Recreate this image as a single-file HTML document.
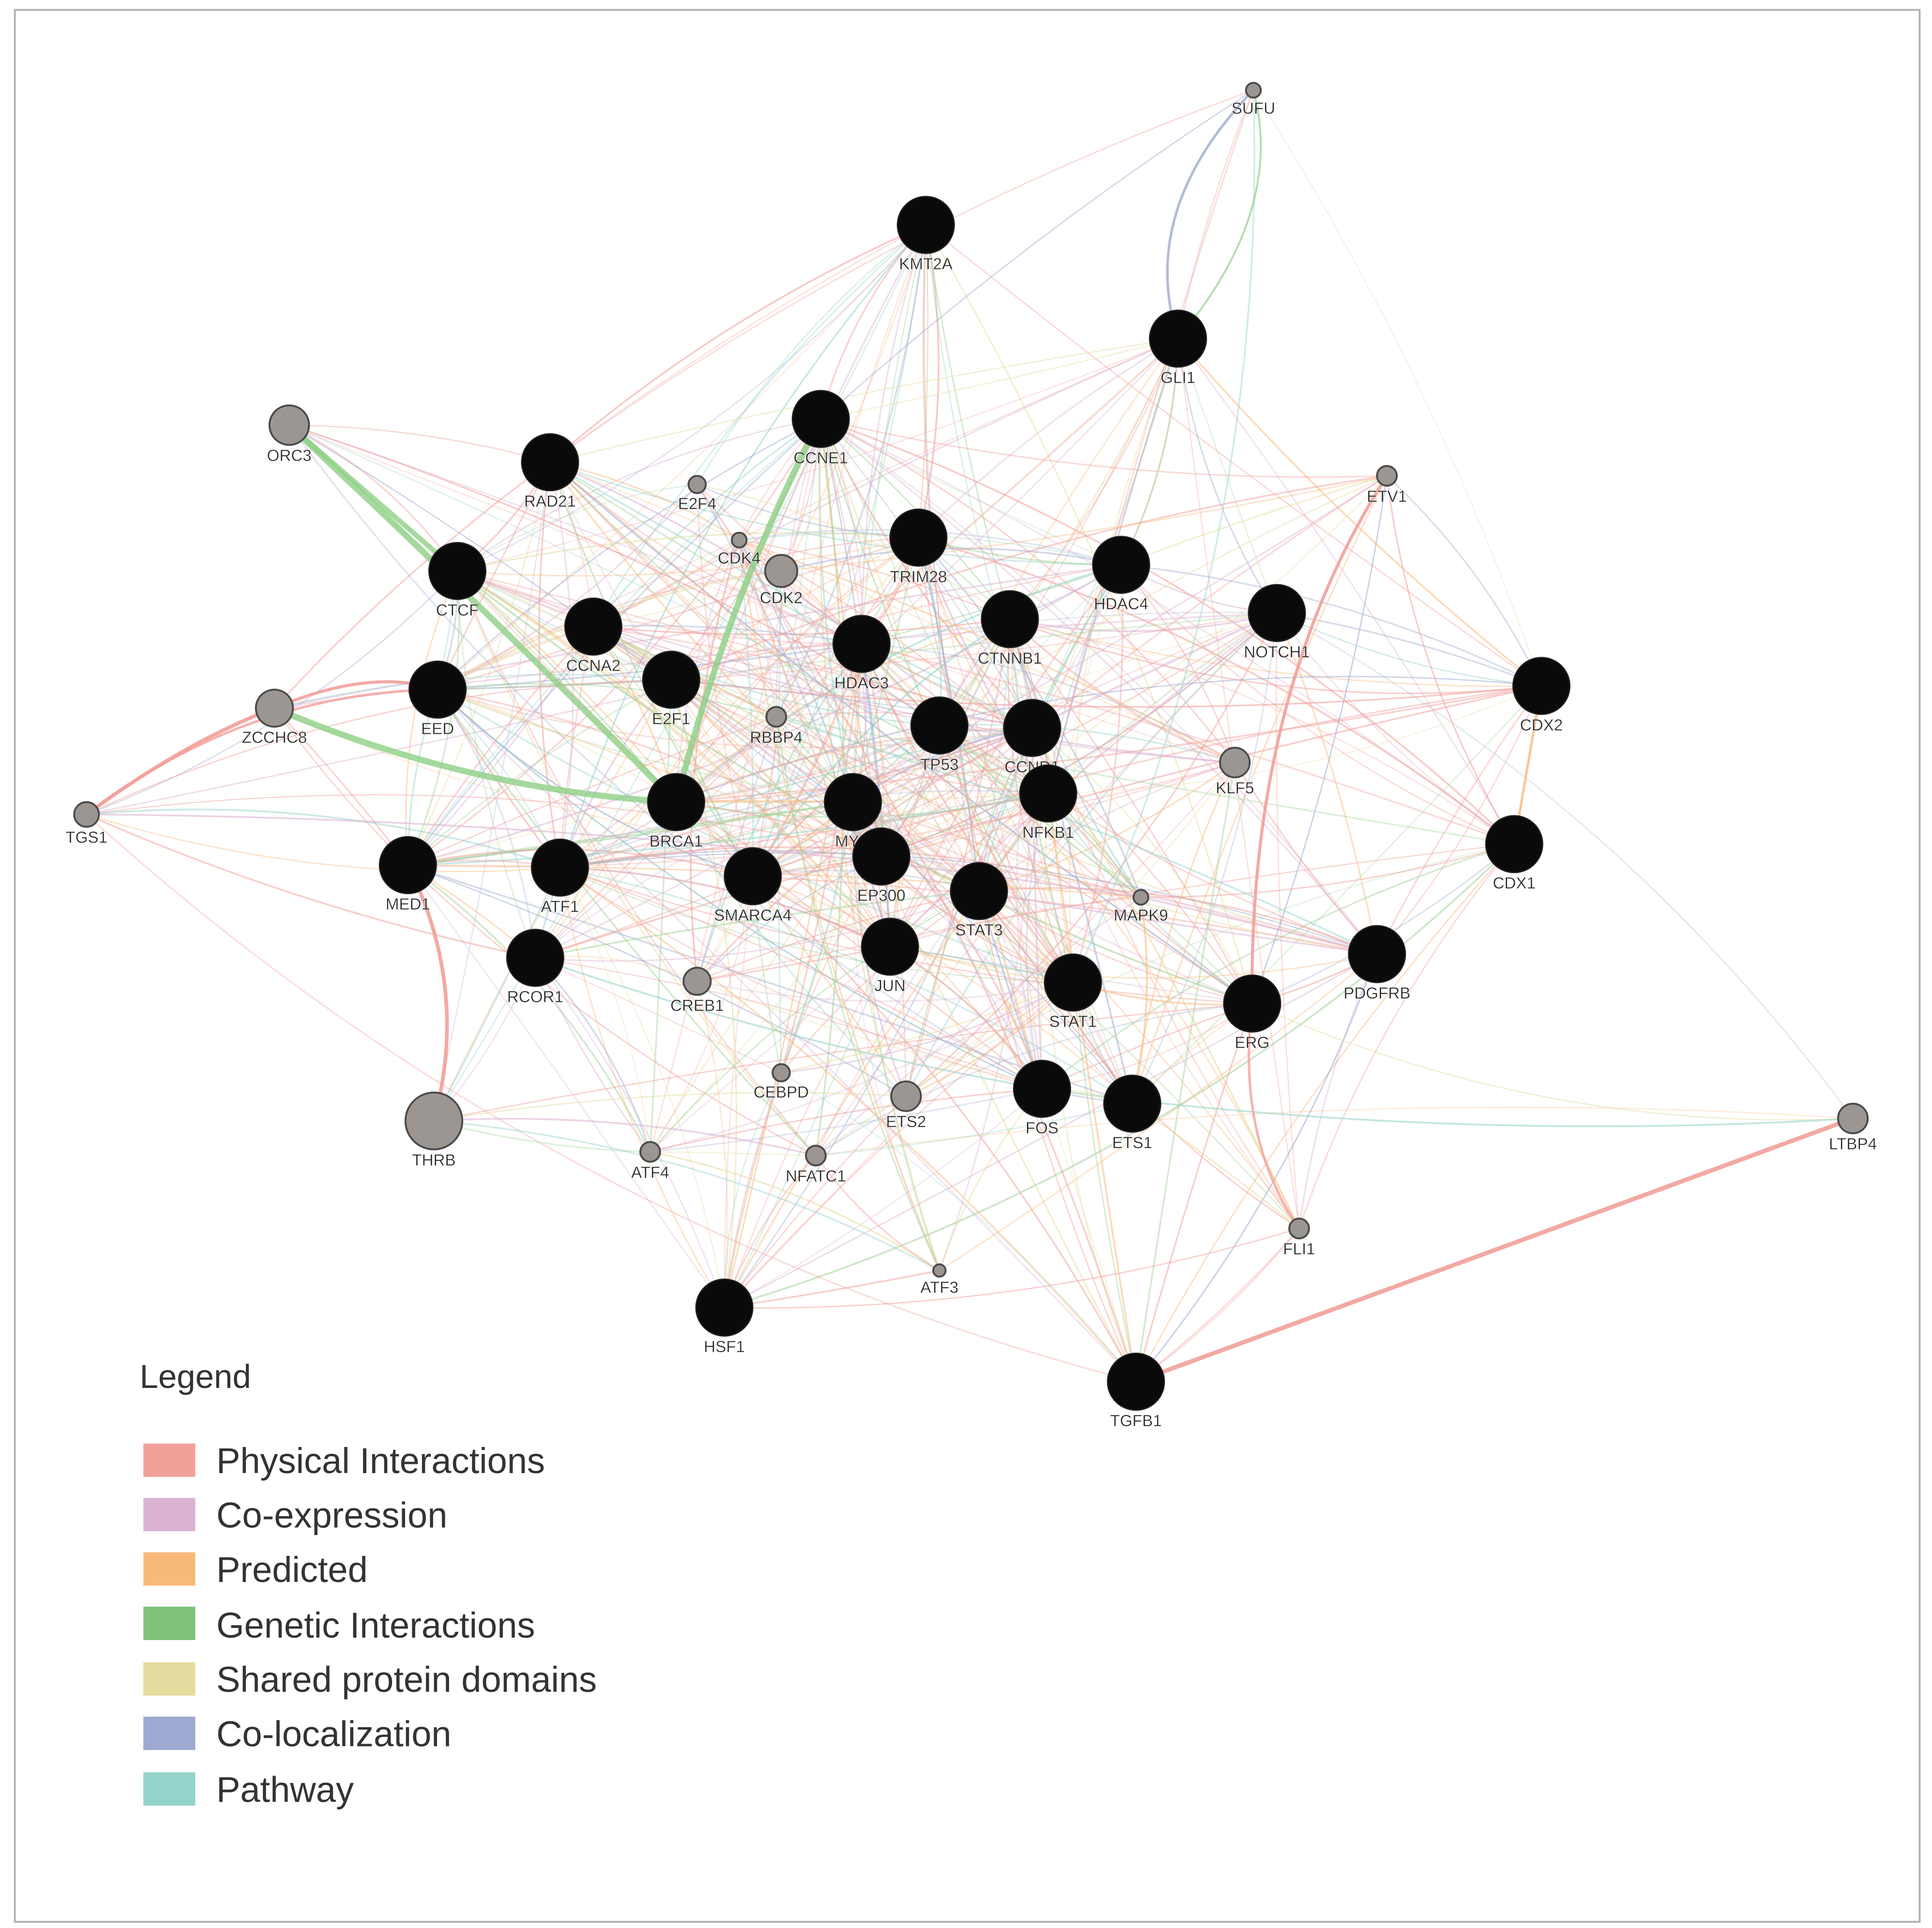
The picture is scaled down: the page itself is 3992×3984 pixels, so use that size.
<!DOCTYPE html>
<html><head><meta charset="utf-8">
<style>
html,body{margin:0;padding:0;background:#fff;}
svg{display:block;}
text{font-family:"Liberation Sans",Arial,sans-serif;}
</style></head>
<body>
<svg id="s" width="3992" height="3984" viewBox="0 0 1563 1560" preserveAspectRatio="none" xmlns="http://www.w3.org/2000/svg">
<rect x="0" y="0" width="1563" height="1560" fill="#fff"/>
<rect x="12" y="8" width="1541" height="1547" fill="none" stroke="#b0b0b0" stroke-width="1.5"/>
<g id="edges" fill="none" stroke-linecap="round"></g>
<g id="thick" fill="none" stroke-linecap="round">
<path d="M234,344 Q380,480 547,649" stroke="#8fcf86" stroke-width="5" opacity="0.8"/>
<path d="M222,573 Q380,640 547,649" stroke="#8fcf86" stroke-width="5" opacity="0.8"/>
<path d="M664,339 Q590,480 547,649" stroke="#8fcf86" stroke-width="5" opacity="0.8"/>
<path d="M234,344 L370,462" stroke="#8fcf86" stroke-width="4" opacity="0.8"/>
<path d="M919,1118 L1499,905" stroke="#f2a09a" stroke-width="3.5" opacity="0.9"/>
<path d="M70,659 Q150,600 222,573" stroke="#f2a09a" stroke-width="3" opacity="0.9"/>
<path d="M70,659 Q200,560 354,558" stroke="#f2a09a" stroke-width="2" opacity="0.8"/>
<path d="M330,700 Q380,800 351,907" stroke="#f2a09a" stroke-width="3" opacity="0.9"/>
<path d="M1013,812 Q1010,560 1122,385" stroke="#f2a09a" stroke-width="2.5" opacity="0.9"/>
<path d="M1013,812 Q1000,920 1051,994" stroke="#f2a09a" stroke-width="2" opacity="0.8"/>
<path d="M953,274 Q920,170 1014,73" stroke="#9da9d0" stroke-width="2" opacity="0.8"/>
<path d="M953,274 Q1040,170 1014,73" stroke="#8fcf86" stroke-width="1.5" opacity="0.7"/>
<path d="M222,573 Q300,540 354,558" stroke="#f2a09a" stroke-width="2.5" opacity="0.9"/>
<path d="M1247,555 L1225,683" stroke="#f9b97b" stroke-width="2" opacity="0.8"/>
</g>
<g id="nodes"></g>
<g font-size="29" fill="#333">
<text x="113" y="1123" font-size="27">Legend</text>
<rect x="116" y="1168" width="42" height="27" fill="#f2a09a"/><text x="175" y="1192">Physical Interactions</text>
<rect x="116" y="1212" width="42" height="27" fill="#dcb1d2"/><text x="175" y="1236">Co-expression</text>
<rect x="116" y="1256" width="42" height="27" fill="#f9b97b"/><text x="175" y="1280">Predicted</text>
<rect x="116" y="1300" width="42" height="27" fill="#7fc27c"/><text x="175" y="1325">Genetic Interactions</text>
<rect x="116" y="1345" width="42" height="27" fill="#e6dca0"/><text x="175" y="1369">Shared protein domains</text>
<rect x="116" y="1389" width="42" height="27" fill="#9da9d0"/><text x="175" y="1413">Co-localization</text>
<rect x="116" y="1434" width="42" height="27" fill="#94d3cb"/><text x="175" y="1458">Pathway</text>
</g>
</svg>
<script>
var N=[
["KMT2A",749,182,23,1],["GLI1",953,274,23,1],["CCNE1",664,339,23,1],["RAD21",445,374,23,1],
["TRIM28",743,435,23,1],["HDAC4",907,457,23,1],["CTCF",370,462,23,1],["CCNA2",480,507,23,1],
["CTNNB1",817,501,23,1],["NOTCH1",1033,496,23,1],["HDAC3",697,521,23,1],["E2F1",543,550,23,1],
["EED",354,558,23,1],["CDX2",1247,555,23,1],["TP53",760,587,23,1],["CCND1",835,589,23,1],
["NFKB1",848,642,23,1],["BRCA1",547,649,23,1],["MYC",690,649,23,1],["EP300",713,693,23,1],
["CDX1",1225,683,23,1],["MED1",330,700,23,1],["ATF1",453,702,23,1],["SMARCA4",609,709,23,1],
["STAT3",792,721,23,1],["JUN",720,766,23,1],["RCOR1",433,775,23,1],["PDGFRB",1114,772,23,1],
["STAT1",868,795,23,1],["ERG",1013,812,23,1],["FOS",843,881,23,1],["ETS1",916,893,23,1],
["HSF1",586,1058,23,1],["TGFB1",919,1118,23,1],
["SUFU",1014,73,6,0],["ORC3",234,344,16,0],["E2F4",564,392,7,0],["CDK4",598,437,6,0],
["CDK2",632,462,13,0],["ETV1",1122,385,8,0],["ZCCHC8",222,573,15,0],["RBBP4",628,580,8,0],
["KLF5",999,617,12,0],["TGS1",70,659,10,0],["MAPK9",923,726,6,0],["CREB1",564,794,11,0],
["CEBPD",632,868,7,0],["ETS2",733,887,12,0],["THRB",351,907,23,0],["ATF4",526,932,8,0],
["NFATC1",660,935,8,0],["LTBP4",1499,905,12,0],["FLI1",1051,994,8,0],["ATF3",760,1028,5,0]];
var NS="http://www.w3.org/2000/svg";
var seed=12345;function r(){seed=(seed*16807)%2147483647;return (seed-1)/2147483646;}
var cols=["#f2a09a","#f2a09a","#f2a09a","#dcb1d2","#f9b97b","#9fd196","#e6dca0","#9da9d0","#94d3cb"];
var eg=document.getElementById("edges");
for(var i=0;i<N.length;i++)for(var j=i+1;j<N.length;j++){
 var a=N[i],b=N[j];var dx=a[1]-b[1],dy=a[2]-b[2];var d=Math.sqrt(dx*dx+dy*dy);
 var p=(a[4]&&b[4])?0.8:((a[4]||b[4])?0.4:0.12);
 p*=Math.max(0.15,1-d/1000);
 var k=1+Math.floor(r()*2);
 for(var t=0;t<k;t++){
 if(r()<p){
  var e=document.createElementNS(NS,"path");
  var mx=(a[1]+b[1])/2,my=(a[2]+b[2])/2;var bend=(r()-0.5)*0.25*d;
  var qx=mx+(-dy/d)*bend,qy=my+(dx/d)*bend;
  e.setAttribute("d","M"+a[1]+","+a[2]+" Q"+qx.toFixed(1)+","+qy.toFixed(1)+" "+b[1]+","+b[2]);
  e.setAttribute("stroke",cols[Math.floor(r()*cols.length)]);
  e.setAttribute("stroke-width",(0.8+r()*0.7).toFixed(2));
  e.setAttribute("stroke-opacity",(0.28+r()*0.3).toFixed(2));
  eg.appendChild(e);
 }}
}
var ng=document.getElementById("nodes");
N.forEach(function(n){
 var c=document.createElementNS(NS,"circle");
 c.setAttribute("cx",n[1]);c.setAttribute("cy",n[2]);c.setAttribute("r",n[3]);
 c.setAttribute("fill",n[4]?"#0a0a0a":"#9b9691");
 c.setAttribute("stroke",n[4]?"#222":"#4a4a4a");c.setAttribute("stroke-width",n[4]?1:1.5);
 ng.appendChild(c);
 var t=document.createElementNS(NS,"text");
 t.setAttribute("x",n[1]);t.setAttribute("y",n[2]+n[3]+13);
 t.setAttribute("text-anchor","middle");t.setAttribute("font-size","13");
 t.setAttribute("fill","#222");t.setAttribute("stroke","#fff");t.setAttribute("stroke-width","0.2");
 t.textContent=n[0];ng.appendChild(t);
});
</script>
</body></html>
